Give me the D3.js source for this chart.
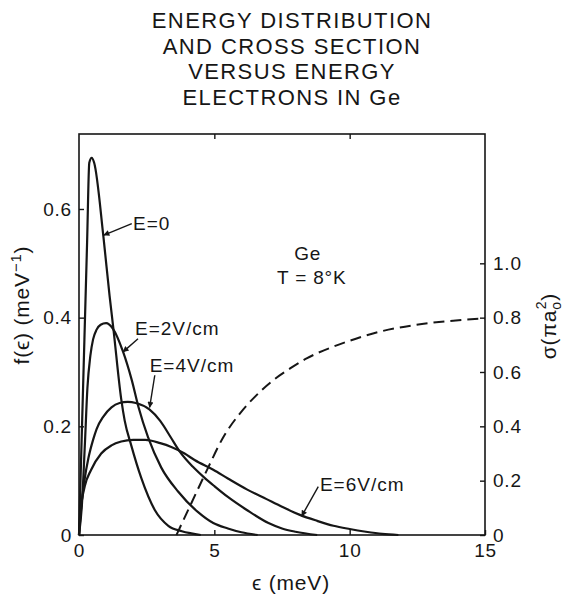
<!DOCTYPE html>
<html><head><meta charset="utf-8">
<script src="https://cdn.jsdelivr.net/npm/d3@7"></script>
<style>
html,body{margin:0;padding:0;background:#fff;}
svg{display:block;font-family:"Liberation Sans",Arial,sans-serif;}
</style></head>
<body><svg id="chart" width="563" height="595"></svg>
<script>
// ---------- data ----------
const titleLines = ["ENERGY DISTRIBUTION", "AND CROSS SECTION", "VERSUS ENERGY", "ELECTRONS IN Ge"];

const epsE0 = [0, 0.15, 0.3, 0.38, 0.47, 0.56, 0.9, 1.13, 1.27, 1.56, 1.69, 1.93, 2.3, 2.8, 3.3, 3.8, 4.15, 4.5];
const fE0   = [0, 0.27, 0.54, 0.685, 0.694, 0.685, 0.55, 0.44, 0.38, 0.25, 0.21, 0.165, 0.105, 0.046, 0.017, 0.007, 0.003, 0];

const epsE2 = [0, 0.1, 0.22, 0.31, 0.42, 0.52, 0.65, 0.8, 1.0, 1.25, 1.63, 1.95, 2.2, 2.55, 3.04, 3.66, 4.4, 4.96, 5.5, 6.0, 6.6];
const fE2   = [0, 0.05, 0.17, 0.27, 0.33, 0.36, 0.378, 0.387, 0.39, 0.38, 0.337, 0.285, 0.235, 0.18, 0.124, 0.08, 0.042, 0.022, 0.012, 0.005, 0];

const epsE4 = [0, 0.08, 0.2, 0.35, 0.52, 0.65, 0.9, 1.2, 1.5, 1.8, 2.1, 2.6, 3.0, 3.4, 3.73, 4.2, 4.6, 5.0, 5.5, 6.2, 7.0, 7.5, 8.0, 8.8];
const fE4   = [0, 0.05, 0.1, 0.142, 0.175, 0.195, 0.218, 0.235, 0.243, 0.245, 0.243, 0.231, 0.21, 0.179, 0.153, 0.126, 0.107, 0.09, 0.07, 0.046, 0.022, 0.012, 0.006, 0];

const epsE6 = [0, 0.05, 0.21, 0.45, 0.82, 1.2, 1.56, 2.0, 2.45, 3.0, 3.41, 3.9, 4.27, 4.96, 5.5, 6.2, 6.93, 7.5, 8.16, 8.8, 9.4, 10.0, 10.6, 11.2, 11.8];
const fE6   = [0, 0.04, 0.089, 0.12, 0.15, 0.165, 0.172, 0.175, 0.175, 0.169, 0.162, 0.15, 0.138, 0.12, 0.104, 0.084, 0.066, 0.052, 0.037, 0.026, 0.017, 0.011, 0.006, 0.002, 0];

const epsSigma = [3.6, 4.15, 4.78, 5.33, 5.95, 6.56, 7.18, 7.8, 8.41, 9.39, 10.0, 11.1, 12.35, 13.6, 15];
const sigma    = [0, 0.117, 0.25, 0.36, 0.448, 0.515, 0.57, 0.613, 0.65, 0.693, 0.715, 0.748, 0.772, 0.787, 0.797];

const xTicks = [0, 5, 10, 15];
const xTopTicks = [5, 10];
const fTicks = [0, 0.2, 0.4, 0.6];
const sigmaTicks = [0, 0.2, 0.4, 0.6, 0.8, 1.0];

// curve labels: text anchor (eps,f), arrow start (eps,f), arrow tip (eps,f)
const curveLabels = ["E=0", "E=2V/cm", "E=4V/cm", "E=6V/cm"];
const labelPos  = [[1.995, 0.561], [2.07, 0.368], [2.61, 0.300], [8.9, 0.081]];
const arrowFrom = [[1.95, 0.573], [2.18, 0.361], [2.80, 0.294], [8.84, 0.089]];
const arrowTo   = [[0.92, 0.552], [1.63, 0.337], [2.61, 0.235], [8.23, 0.035]];

// ---------- chart ----------
const svg = d3.select("#chart");
const x = d3.scaleLinear().domain([0, 15]).range([79, 485]);
const y = d3.scaleLinear().domain([0, 0.738]).range([535, 134]);
const ys = d3.scaleLinear().domain([0, 1.476]).range([535, 134]);
const ink = "#161616";

// title
svg.append("g").selectAll("text").data(titleLines).join("text")
  .attr("x", 292).attr("y", (d, i) => 28 + i * 25.7)
  .attr("text-anchor", "middle").attr("font-size", 22).attr("letter-spacing", 1.4)
  .attr("fill", ink).text(d => d);

// frame
svg.append("rect").attr("x", x(0)).attr("y", y.range()[1])
  .attr("width", x(15) - x(0)).attr("height", y(0) - y.range()[1])
  .attr("fill", "none").attr("stroke", ink).attr("stroke-width", 1.6);

const fmt = d => d === 0 ? "0" : d3.format(".1f")(d);
function styleAxis(g) {
  g.select(".domain").remove();
  g.selectAll(".tick line").attr("stroke", ink).attr("stroke-width", 1.4);
  g.selectAll(".tick text").attr("fill", ink).attr("font-size", 19)
    .attr("font-family", "Liberation Sans, Arial, sans-serif").attr("letter-spacing", 0.8);
}
svg.append("g").attr("transform", `translate(${x(0)},0)`)
  .call(d3.axisLeft(y).tickValues(fTicks).tickSizeInner(-5).tickSizeOuter(0).tickPadding(7).tickFormat(fmt))
  .call(styleAxis);
svg.append("g").attr("transform", `translate(${x(15)},0)`)
  .call(d3.axisRight(ys).tickValues(sigmaTicks).tickSizeInner(-5).tickSizeOuter(0).tickPadding(8).tickFormat(fmt))
  .call(styleAxis);
svg.append("g").attr("transform", `translate(0,${y(0)})`)
  .call(d3.axisBottom(x).tickValues(xTicks).tickSizeInner(-5).tickSizeOuter(0).tickPadding(9).tickFormat(d3.format("d")))
  .call(styleAxis);
svg.append("g").attr("transform", `translate(0,${y.range()[1]})`)
  .call(d3.axisTop(x).tickValues(xTopTicks).tickSizeInner(-5).tickSizeOuter(0).tickFormat(""))
  .call(styleAxis);

// axis titles
svg.append("text").attr("x", 291).attr("y", 590).attr("text-anchor", "middle")
  .attr("font-size", 21).attr("fill", ink).attr("letter-spacing", 0.8).text("\u03F5 (meV)");

const lt = svg.append("text").attr("transform", "translate(29,305) rotate(-90)")
  .attr("text-anchor", "middle").attr("font-size", 21).attr("fill", ink).attr("letter-spacing", 0.8);
lt.append("tspan").text("f(\u03F5) (meV");
lt.append("tspan").attr("dy", -8).attr("font-size", 15).text("\u22121");
lt.append("tspan").attr("dy", 8).text(")");

const rt = svg.append("text").attr("transform", "translate(556,326) rotate(-90)")
  .attr("text-anchor", "middle").attr("font-size", 21).attr("fill", ink).attr("letter-spacing", 0.8);
rt.append("tspan").text("\u03C3(\u03C0a");
rt.append("tspan").attr("dy", 5).attr("font-size", 14).text("o");
rt.append("tspan").attr("dx", -8).attr("dy", -15).attr("font-size", 14).text("2");
rt.append("tspan").attr("dy", 10).text(")");

// curves
const line = d3.line().x(d => x(d[0])).y(d => y(d[1])).curve(d3.curveMonotoneX);
const series = [[epsE0, fE0], [epsE2, fE2], [epsE4, fE4], [epsE6, fE6]];
svg.append("g").selectAll("path").data(series).join("path")
  .attr("d", s => line(d3.zip(s[0], s[1])))
  .attr("fill", "none").attr("stroke", ink).attr("stroke-width", 2.2)
  .attr("stroke-linejoin", "round");

const sigLine = d3.line().x(d => x(d[0])).y(d => ys(d[1])).curve(d3.curveMonotoneX);
svg.append("path").attr("d", sigLine(d3.zip(epsSigma, sigma)))
  .attr("fill", "none").attr("stroke", ink).attr("stroke-width", 2)
  .attr("stroke-dasharray", "11,6");

// annotations
svg.append("defs").append("marker").attr("id", "ah")
  .attr("viewBox", "0 0 10 10").attr("refX", 9).attr("refY", 5)
  .attr("markerWidth", 8).attr("markerHeight", 6).attr("markerUnits", "userSpaceOnUse")
  .attr("orient", "auto")
  .append("path").attr("d", "M0,0 L10,5 L0,10 Z").attr("fill", ink);

const ann = svg.append("g");
curveLabels.forEach((t, i) => {
  ann.append("text").attr("x", x(labelPos[i][0])).attr("y", y(labelPos[i][1]))
    .attr("font-size", 19).attr("letter-spacing", 1).attr("fill", ink).text(t);
  ann.append("line")
    .attr("x1", x(arrowFrom[i][0])).attr("y1", y(arrowFrom[i][1]))
    .attr("x2", x(arrowTo[i][0])).attr("y2", y(arrowTo[i][1]))
    .attr("stroke", ink).attr("stroke-width", 1.4).attr("marker-end", "url(#ah)");
});

ann.append("text").attr("x", x(8.45)).attr("y", y(0.506)).attr("text-anchor", "middle")
  .attr("font-size", 19).attr("fill", ink).attr("letter-spacing", 0.8).text("Ge");
ann.append("text").attr("x", x(8.6)).attr("y", y(0.462)).attr("text-anchor", "middle")
  .attr("font-size", 19).attr("fill", ink).attr("letter-spacing", 0.8).text("T = 8\u00B0K");
</script></body></html>
